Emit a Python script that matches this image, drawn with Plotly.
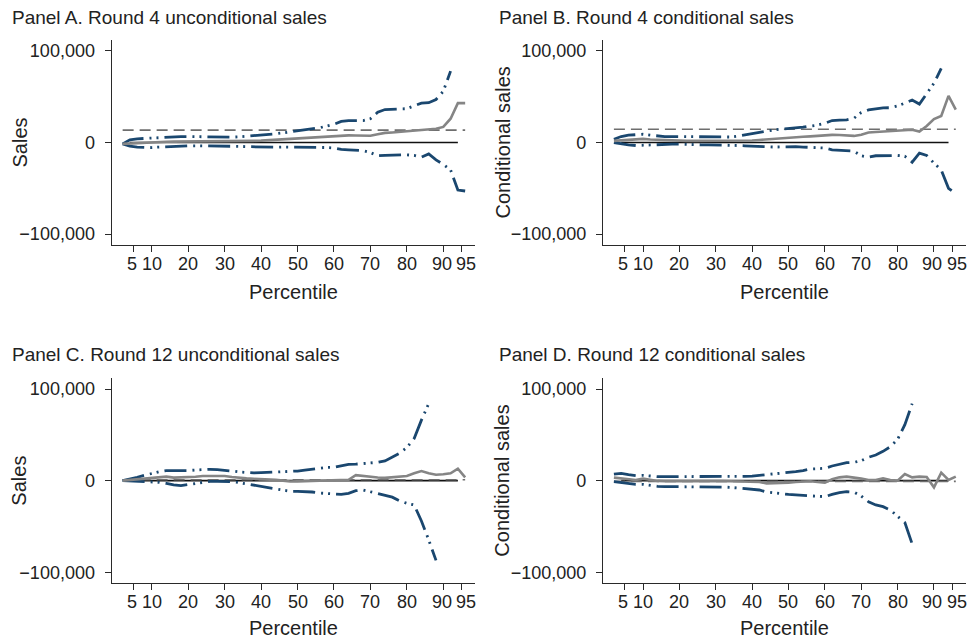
import plotly.graph_objects as go

# Percentiles at which quantile effects are estimated
pct = list(range(2, 97, 2))

# ---- Panel A: Round 4 unconditional sales ----
A_est = [-1500, -1000, -500, 0, 300, 500, 800, 1000, 1000, 1000, 1000, 1000, 1000, 1000, 1000, 1000,
         1200, 1500, 1800, 2000, 2500, 3000, 3500, 4200, 5000, 5300, 5600, 6000, 6300, 6800, 7500, 7800,
         7600, 7300, 7300, 9000, 10500, 11000, 11800, 12500, 13000, 13500, 15000, 15000, 17000, 26000,
         43000, 43000]
A_up = [-1500, 3000, 4000, 4500, 5000, 5500, 6000, 6500, 6500, 6500, 6300, 6000, 5800, 5500, 5500, 5800,
        6200, 6800, 7200, 7500, 8500, 9500, 10500, 11500, 12500, 13500, 14500, 16000, 18000, 20000, 23000,
        24000, 24000, 24000, 26000, 33000, 36000, 36500, 36500, 37000, 40000, 43000, 43500, 47000, 56000,
        78000, None, None]
A_lo = [-1500, -4000, -5000, -5500, -5500, -5000, -4500, -4000, -3800, -3600, -3600, -3600, -3600, -3600,
        -3800, -4000, -4200, -4500, -4800, -5000, -5200, -5200, -5000, -5000, -5000, -4800, -4800, -4800,
        -5500, -6000, -7500, -8000, -8500, -9000, -11000, -14500, -14000, -13800, -13500, -13500, -14000,
        -16000, -12500, -19000, -24000, -30000, -52000, -53000]

# ---- Panel B: Round 4 conditional sales ----
B_est = [1800, 2500, 3000, 3500, 4000, 3200, 2800, 2500, 2000, 1800, 1800, 1800, 1800, 1800, 1800, 1800,
         1800, 1900, 2000, 2200, 2800, 3500, 4200, 5000, 5500, 6000, 6300, 6700, 7300, 8000, 8300, 8200,
         7800, 7200, 8500, 11000, 11500, 12000, 12500, 13000, 13500, 14000, 12000, 18000, 25500, 29000,
         51000, 36000]
B_up = [3600, 6500, 8000, 8700, 9000, 8000, 7000, 6500, 6500, 6500, 6000, 5800, 5800, 5800, 5800, 5800,
        6000, 7000, 8400, 9500, 11000, 12500, 13800, 14500, 15000, 15800, 16700, 18000, 19000, 21000, 24000,
        24500, 24700, 26500, 32700, 35600, 37000, 37800, 38000, 40000, 43000, 46500, 42000, 54000, 64700,
        81000, None, None]
B_lo = [0, -1500, -2500, -3300, -3000, -2000, -1800, -1800, -1800, -1800, -2200, -2500, -2500, -2500,
        -2500, -2800, -3000, -3300, -3600, -4000, -4400, -4700, -5000, -4800, -4400, -4600, -5000, -5600,
        -6200, -6000, -8000, -8500, -8700, -9500, -14500, -16000, -14500, -14200, -14200, -14200, -15000,
        -21500, -11600, -14200, -22500, -30000, -50000, -56000]

# ---- Panel C: Round 12 unconditional sales ----
C_est = [0, 800, 1500, 2000, 2500, 3500, 4400, 3300, 3400, 3600, 4300, 5000, 5000, 5000, 5000, 4000,
         3000, 2500, 2000, 1700, 1500, 800, 0, -1000, -800, -600, -200, 0, 300, 700, 700, 1000, 6000,
         5000, 4400, 3500, 3000, 3500, 4400, 5000, 8000, 10500, 8000, 6500, 7000, 8000, 13000, 3600]
C_up = [0, 1500, 3600, 5800, 8000, 9800, 11000, 10800, 10800, 11000, 11600, 12400, 12400, 12000, 11600,
        10500, 9500, 8700, 8400, 8700, 9000, 9300, 9300, 9800, 10500, 11600, 12700, 14000, 14500, 14500,
        16400, 17800, 18000, 18400, 19000, 20000, 21500, 25500, 30000, 36000, 46000, 66000, 84000,
        None, None, None, None, None]
C_lo = [0, -300, -300, -700, -1000, -1800, -3000, -4700, -5500, -4400, -3000, -1500, -700, -700, -700,
        -1000, -2200, -3600, -5000, -6200, -7600, -9000, -10500, -11600, -11600, -11600, -12400, -13500,
        -14200, -14500, -15000, -13800, -11000, -10200, -12000, -13800, -15600, -18000, -22000, -24700,
        -26500, -44000, -64700, -87000, None, None, None, None]

# ---- Panel D: Round 12 conditional sales ----
D_est = [3300, 2500, 1500, 700, 2200, 700, -300, -500, -700, -700, -700, -500, -500, -300, -300, -500,
         -700, -700, -700, -700, -1500, -3000, -3000, -3000, -2200, -1500, -700, -700, -1500, -2200, 1500,
         3600, 4400, 3600, 2200, 700, 700, 2500, 700, 0, 7300, 3600, 4400, 4000, -7300, 8700, 700, 4400]
D_up = [7000, 8000, 6500, 5500, 5800, 5000, 4400, 4400, 4400, 4400, 4400, 4400, 4000, 4000, 4000, 4000,
        4000, 4400, 4700, 5000, 5800, 6500, 7000, 7600, 8700, 9800, 11000, 12700, 13000, 13500, 16000,
        18000, 19600, 20000, 21800, 25500, 28000, 32000, 37000, 45000, 61000, 84000,
        None, None, None, None, None, None]
D_lo = [-1000, -2200, -3300, -4000, -4000, -5500, -6200, -6500, -6500, -6500, -6200, -6200, -6200, -6200,
        -6500, -7000, -7300, -8000, -8700, -9500, -10200, -12500, -13500, -14500, -15000, -15600, -16000,
        -16400, -17000, -17500, -15000, -13000, -12000, -12500, -16700, -23000, -26500, -28400, -32000,
        -38500, -45800, -69000, None, None, None, None, None, None]

# Mean (average treatment effect) shown as a dashed horizontal line
means = [13500, 14500, 1000, -800]

titles = ["Panel A. Round 4 unconditional sales", "Panel B. Round 4 conditional sales",
          "Panel C. Round 12 unconditional sales", "Panel D. Round 12 conditional sales"]
ytitles = ["Sales", "Conditional sales", "Sales", "Conditional sales"]
xtitle = "Percentile"
xtickvals = [5, 10, 20, 30, 40, 50, 60, 70, 80, 90, 95]
xticktext = ["5", "10", "20", "30", "40", "50", "60", "70", "80", "90", "95"]
ytickvals = [-100000, 0, 100000]

series = [(A_est, A_up, A_lo), (B_est, B_up, B_lo), (C_est, C_up, C_lo), (D_est, D_up, D_lo)]

# The page body margin is removed by a post script, so the figure fills the window exactly.
OFF = 0
W, H = 969, 639
NAVY = "#1a476f"
GRAY = "#858585"
DGRAY = "#6e6e6e"
AX = "#2a2a2a"
TXT = "#222222"
FONT = "Liberation Sans, Arial, Helvetica, sans-serif"


def px(xp):
    return (xp - OFF) / W


def py(yp):
    return 1 - (yp - OFF) / H


# plot-area pixel boxes in window coordinates (left, right, top, bottom)
boxes = [(111.7, 475.0, 40, 245), (603.0, 965.6, 40, 245),
         (111.7, 475.0, 378, 583.3), (603.0, 965.6, 378, 583.3)]

fig = go.Figure()
ci_dash = "22px,6px,2px,5px,2px,6px"

for i, (est, up, lo) in enumerate(series):
    xa = "x" if i == 0 else f"x{i+1}"
    ya = "y" if i == 0 else f"y{i+1}"
    fig.add_trace(go.Scatter(x=pct[1:-1], y=[0] * len(pct[1:-1]), mode="lines",
                             line=dict(color="#111111", width=1.6), xaxis=xa, yaxis=ya,
                             hoverinfo="skip"))
    fig.add_trace(go.Scatter(x=pct, y=[means[i]] * len(pct), mode="lines",
                             line=dict(color=DGRAY, width=1.6, dash="11px,6px"), xaxis=xa, yaxis=ya))
    fig.add_trace(go.Scatter(x=pct, y=up, mode="lines", connectgaps=False,
                             line=dict(color=NAVY, width=2.8, dash=ci_dash), xaxis=xa, yaxis=ya))
    fig.add_trace(go.Scatter(x=pct, y=lo, mode="lines", connectgaps=False,
                             line=dict(color=NAVY, width=2.8, dash=ci_dash), xaxis=xa, yaxis=ya))
    fig.add_trace(go.Scatter(x=pct, y=est, mode="lines",
                             line=dict(color=GRAY, width=2.6), xaxis=xa, yaxis=ya))

layout = dict(width=W, height=H, margin=dict(l=0, r=0, t=0, b=0),
              paper_bgcolor="white", plot_bgcolor="white", showlegend=False,
              font=dict(family=FONT, color=TXT))

# small horizontal nudges of the x tick labels, as in the original typesetting
label_nudge = {5: -2, 90: -1.5, 95: 4.5}

annotations = []
for i, (l, r, t, b) in enumerate(boxes):
    kx = "xaxis" if i == 0 else f"xaxis{i+1}"
    ky = "yaxis" if i == 0 else f"yaxis{i+1}"
    xa = "x" if i == 0 else f"x{i+1}"
    anchor_x = "y" if i == 0 else f"y{i+1}"
    anchor_y = "x" if i == 0 else f"x{i+1}"
    layout[kx] = dict(domain=[px(l), px(r)], range=[-1.0, 98.7], anchor=anchor_x,
                      tickvals=xtickvals, showticklabels=False, ticks="outside",
                      ticklen=6, tickwidth=1.3,
                      tickcolor=AX, showline=True, linecolor=AX, linewidth=1.3,
                      showgrid=False, zeroline=False)
    layout[ky] = dict(domain=[py(b), py(t)], range=[-112000, 112000], anchor=anchor_y,
                      tickvals=ytickvals, tickformat=",d", ticks="outside", ticklen=6,
                      ticklabelstandoff=6,
                      tickwidth=1.3, tickcolor=AX, showline=True, linecolor=AX, linewidth=1.3,
                      showgrid=False, zeroline=False, tickfont=dict(size=18, family=FONT))
    ly = b + 18.5
    for v, txt in zip(xtickvals, xticktext):
        annotations.append(dict(text=txt, xref=xa, yref="paper", x=v, y=py(ly),
                                xanchor="center", yanchor="middle", showarrow=False,
                                xshift=label_nudge.get(v, 0), borderpad=0,
                                font=dict(size=18, family=FONT, color=TXT)))
    tx = 10 if i % 2 == 0 else 497
    ty = 18 if i < 2 else 354
    annotations.append(dict(text=titles[i], xref="paper", yref="paper", x=px(tx), y=py(ty),
                            xanchor="left", yanchor="middle", showarrow=False,
                            font=dict(size=19, family=FONT, color=TXT)))
    yx = 19 if i % 2 == 0 else 502
    annotations.append(dict(text=ytitles[i], xref="paper", yref="paper", x=px(yx),
                            y=py((t + b) / 2), xanchor="center", yanchor="middle",
                            textangle=-90, showarrow=False,
                            font=dict(size=20, family=FONT, color=TXT)))
    xy = 292 if i < 2 else 628
    annotations.append(dict(text=xtitle, xref="paper", yref="paper", x=px((l + r) / 2),
                            y=py(xy), xanchor="center", yanchor="middle", showarrow=False,
                            font=dict(size=20, family=FONT, color=TXT)))

layout["annotations"] = annotations
fig.update_layout(**layout)
fig.write_html("out.html", config={"displayModeBar": False},
               post_script="document.body.style.margin='0';document.body.style.overflow='hidden';")
